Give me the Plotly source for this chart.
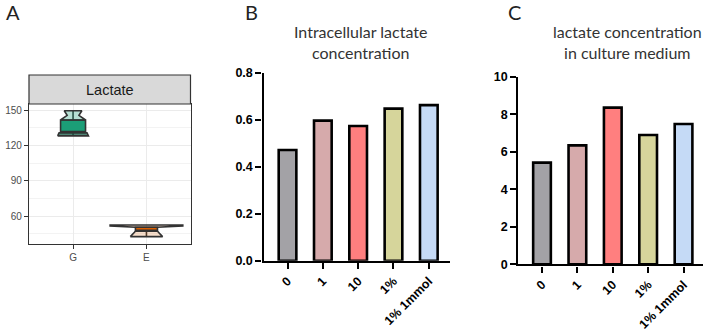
import plotly.graph_objects as go

W, H = 708, 332

# ---------------- data ----------------
# Panel A (notched-box style summary of lactate, groups G and E)
groups_a = ["G", "E"]
box_q1 = [130.7, 47.0]
box_median = [131.6, 47.0]
box_q3 = [141.5, 50.4]
box_low = [128.0, 42.5]
box_high = [149.4, 50.4]
box_width = [0.34, 0.30]
# silhouette profiles above q3 and below q1 (value, width in category units)
upper_profile = [
    [(141.5, 0.34), (145.5, 0.16), (149.4, 0.24)],
    [(50.4, 0.30), (51.6, 0.99), (52.4, 0.99)],
]
lower_profile = [
    [(128.0, 0.42), (130.7, 0.38)],
    [(42.5, 0.44), (47.0, 0.30)],
]
a_dark = ["#1b9e77", "#d95f02"]
a_light = ["rgba(27,158,119,0.32)", "rgba(217,95,2,0.2)"]
a_base = ["rgba(20,90,68,0.75)", "rgba(217,95,2,0.2)"]

# Panels B and C
categories = ["0", "1", "10", "1%", "1% 1mmol"]
intracellular = [0.471, 0.596, 0.573, 0.647, 0.662]
medium = [5.42, 6.34, 8.35, 6.89, 7.48]
bar_colors = ["#a3a2a6", "#d6aaab", "#ff7f7f", "#d6d59b", "#c5daf6"]

title_b = "Intracellular lactate<br>concentration"
title_c = "lactate concentration<br>in culture medium"


def xp(px):
    return px / W


def yp(py):
    return 1 - py / H


fig = go.Figure()

# ---- Panel A ----
def silhouette(c, prof):
    xs = [c - w / 2 for v, w in prof] + [c + w / 2 for v, w in reversed(prof)]
    ys = [v for v, w in prof] + [v for v, w in reversed(prof)]
    return xs + xs[:1], ys + ys[:1]

for i, g in enumerate(groups_a):
    fig.add_trace(go.Box(
        x=[i], q1=[box_q1[i]], median=[box_median[i]], q3=[box_q3[i]],
        lowerfence=[box_low[i]], upperfence=[box_high[i]],
        width=box_width[i], fillcolor=a_dark[i], whiskerwidth=0,
        line=dict(color="#333333", width=1.6), boxpoints=False,
        hoverinfo="skip", showlegend=False, xaxis="x", yaxis="y"))
    for prof, col in ((upper_profile[i], a_light[i]), (lower_profile[i], a_base[i])):
        xs, ys = silhouette(i, prof)
        fig.add_trace(go.Scatter(
            x=xs, y=ys, mode="lines", fill="toself", fillcolor=col,
            line=dict(color="#333333", width=1.6), hoverinfo="skip",
            showlegend=False, xaxis="x", yaxis="y"))

# ---- Panel B ----
fig.add_trace(go.Bar(
    x=categories, y=intracellular, width=0.5,
    marker=dict(color=bar_colors, line=dict(color="black", width=2.6)),
    showlegend=False, xaxis="x2", yaxis="y2"))

# ---- Panel C ----
fig.add_trace(go.Bar(
    x=categories, y=medium, width=0.5,
    marker=dict(color=bar_colors, line=dict(color="black", width=2.6)),
    showlegend=False, xaxis="x3", yaxis="y3"))

gg_font = dict(family="Liberation Sans, Arial", size=10, color="#4d4d4d")
bold_font = dict(family="Liberation Sans, Arial", size=12.5, color="black", weight="bold")

fig.update_layout(
    width=W, height=H,
    margin=dict(l=0, r=0, t=0, b=0),
    paper_bgcolor="white", plot_bgcolor="white",
    xaxis=dict(
        domain=[xp(29), xp(190.5)], range=[-0.6, 1.6], automargin=False,
        tickmode="array", tickvals=[0, 1], ticktext=groups_a,
        showgrid=True, gridcolor="#ebebeb", gridwidth=1,
        zeroline=False, showline=True, linecolor="#333333", linewidth=1.2, mirror=True,
        ticks="outside", ticklen=4, tickcolor="#333333", tickwidth=1,
        tickfont=gg_font, anchor="y"),
    yaxis=dict(
        domain=[yp(244), yp(104)], range=[36.23, 155.09], automargin=False,
        tickmode="linear", tick0=60, dtick=30,
        minor=dict(tick0=45, dtick=15, showgrid=True, gridcolor="#f3f3f3", gridwidth=0.6),
        showgrid=True, gridcolor="#ebebeb", gridwidth=1,
        zeroline=False, showline=True, linecolor="#333333", linewidth=1.2, mirror=True,
        ticks="outside", ticklen=4, tickcolor="#333333", tickwidth=1,
        tickfont=gg_font, anchor="x"),
    xaxis2=dict(
        domain=[xp(263.5), xp(450)], range=[-0.68, 4.6], type="category", automargin=False,
        showgrid=False, zeroline=False, showline=True, linecolor="black", linewidth=2.4,
        ticks="outside", ticklen=6, tickwidth=2.2, tickcolor="black",
        tickangle=-45, tickfont=bold_font, anchor="y2"),
    yaxis2=dict(
        domain=[yp(260.7), yp(72.7)], range=[0, 0.8], automargin=False,
        tickmode="linear", tick0=0, dtick=0.2, tickformat=".1f",
        showgrid=False, zeroline=False, showline=True, linecolor="black", linewidth=2.4,
        ticks="outside", ticklen=6, tickwidth=2.2, tickcolor="black",
        tickfont=bold_font, anchor="x2"),
    xaxis3=dict(
        domain=[xp(518.3), xp(703)], range=[-0.67, 4.55], type="category", automargin=False,
        showgrid=False, zeroline=False, showline=True, linecolor="black", linewidth=2.4,
        ticks="outside", ticklen=6, tickwidth=2.2, tickcolor="black",
        tickangle=-45, tickfont=bold_font, anchor="y3"),
    yaxis3=dict(
        domain=[yp(264.3), yp(76.7)], range=[0, 10], automargin=False,
        tickmode="linear", tick0=0, dtick=2,
        showgrid=False, zeroline=False, showline=True, linecolor="black", linewidth=2.4,
        ticks="outside", ticklen=6, tickwidth=2.2, tickcolor="black",
        tickfont=bold_font, anchor="x3"),
)

# Facet strip for panel A
fig.add_shape(type="rect", xref="paper", yref="paper",
              x0=xp(29), x1=xp(190.5), y0=yp(104), y1=yp(75),
              fillcolor="#d9d9d9", line=dict(color="#333333", width=1.2))

def note(text, x, y, font):
    fig.add_annotation(text=text, xref="paper", yref="paper", x=xp(x), y=yp(y),
                       xanchor="center", yanchor="middle", showarrow=False,
                       font=font, align="center")

note("Lactate", 110, 89.5, dict(family="Liberation Sans, Arial", size=14.5, color="#1a1a1a"))

title_font = dict(family="Lato, Open Sans", size=16, color="#333333")
note(title_b, 360, 41.5, title_font)
note(title_c, 627, 41.5, title_font)

letter_font = dict(family="Lato, Open Sans", size=20, color="#222222")
for txt, x in (("A", 12.5), ("B", 251), ("C", 514)):
    note(txt, x, 12, letter_font)

fig.write_html("out.html", config={"displayModeBar": False},
               post_script="document.body.style.margin='0';document.body.style.overflow='hidden';")
